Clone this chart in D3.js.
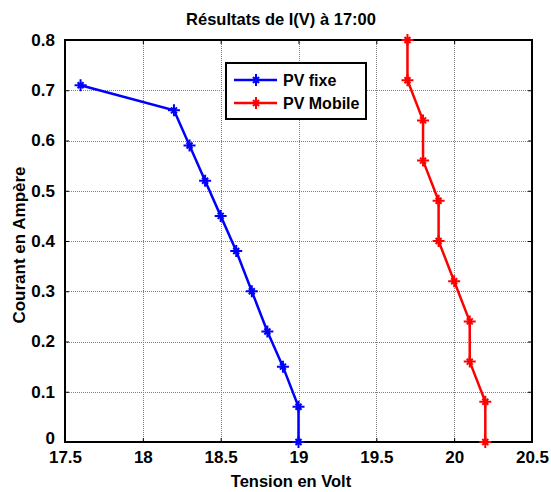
<!DOCTYPE html>
<html>
<head>
<meta charset="utf-8">
<script src="https://cdn.jsdelivr.net/npm/d3@7"></script>
<style>
  html, body { margin: 0; padding: 0; background: #fff; }
  svg { display: block; font-family: "Liberation Sans", Arial, sans-serif; }
</style>
</head>
<body>
<svg id="chart" width="551" height="492"></svg>
<script>
// I(V) measurements at 17:00 for the fixed and the tracking PV panel
const seriesNames = ["PV fixe", "PV Mobile"];
const seriesColors = ["#0000ff", "#ff0000"];
const fixeVolt = [17.6, 18.2, 18.3, 18.4, 18.5, 18.6, 18.7, 18.8, 18.9, 19.0, 19.0];
const fixeAmp  = [0.71, 0.66, 0.59, 0.52, 0.45, 0.38, 0.30, 0.22, 0.15, 0.07, 0.0];
const mobileVolt = [19.7, 19.7, 19.8, 19.8, 19.9, 19.9, 20.0, 20.1, 20.1, 20.2, 20.2];
const mobileAmp  = [0.80, 0.72, 0.64, 0.56, 0.48, 0.40, 0.32, 0.24, 0.16, 0.08, 0.0];
const xTicks = [17.5, 18, 18.5, 19, 19.5, 20, 20.5];
const yTicks = [0, 0.1, 0.2, 0.3, 0.4, 0.5, 0.6, 0.7, 0.8];
const titleText = "Résultats de I(V) à 17:00";
const xLabel = "Tension en Volt";
const yLabel = "Courant en Ampère";

const svg = d3.select("#chart");
const plotL = 65, plotR = 532, plotT = 40, plotB = 442;

const x = d3.scaleLinear().domain([17.5, 20.5]).range([plotL, plotR]);
const y = d3.scaleLinear().domain([0, 0.8]).range([plotB, plotT]);

// grid
const grid = svg.append("g").attr("stroke", "#808080").attr("stroke-width", 1)
  .attr("stroke-dasharray", "1,1");
grid.selectAll("line.v").data(xTicks.slice(1, -1)).join("line")
  .attr("x1", d => Math.round(x(d)) + 0.5).attr("x2", d => Math.round(x(d)) + 0.5)
  .attr("y1", plotT).attr("y2", plotB);
grid.selectAll("line.h").data(yTicks.slice(1, -1)).join("line")
  .attr("y1", d => Math.round(y(d)) + 0.5).attr("y2", d => Math.round(y(d)) + 0.5)
  .attr("x1", plotL).attr("x2", plotR);

// axes with inward ticks
const tickFont = 17;
const xAxisB = svg.append("g").attr("transform", `translate(0,${plotB})`)
  .call(d3.axisBottom(x).tickValues(xTicks).tickSize(-4).tickPadding(9).tickFormat(d3.format("")));
const xAxisT = svg.append("g").attr("transform", `translate(0,${plotT})`)
  .call(d3.axisTop(x).tickValues(xTicks).tickSize(-4).tickFormat(""));
const yAxisL = svg.append("g").attr("transform", `translate(${plotL},0)`)
  .call(d3.axisLeft(y).tickValues(yTicks).tickSize(-4).tickPadding(10).tickFormat(d3.format("")));
const yAxisR = svg.append("g").attr("transform", `translate(${plotR},0)`)
  .call(d3.axisRight(y).tickValues(yTicks).tickSize(-4).tickFormat(""));
[xAxisB, xAxisT, yAxisL, yAxisR].forEach(a => {
  a.select(".domain").remove();
  a.selectAll(".tick line").attr("stroke", "#000").attr("stroke-width", 1);
  a.selectAll("text").attr("font-size", tickFont).attr("font-weight", "bold")
    .attr("font-family", "Liberation Sans, Arial, sans-serif").attr("fill", "#000");
});
// the zero label sits a little higher so it clears the first x label
yAxisL.selectAll(".tick text").filter(d => d === 0).attr("dy", "0.1em");

// frame
svg.append("rect").attr("x", plotL).attr("y", plotT)
  .attr("width", plotR - plotL).attr("height", plotB - plotT)
  .attr("fill", "none").attr("stroke", "#000").attr("stroke-width", 2);

// asterisk-like marker: a bold plus with a short diagonal cross
function star(g, cx, cy, color) {
  const r = 6, d = 3;
  g.append("path")
    .attr("d", `M${cx - r},${cy}H${cx + r}M${cx},${cy - r}V${cy + r}` +
      `M${cx - d},${cy - d}L${cx + d},${cy + d}M${cx - d},${cy + d}L${cx + d},${cy - d}`)
    .attr("stroke", color).attr("stroke-width", 2).attr("fill", "none");
}

const series = [
  { v: fixeVolt, a: fixeAmp },
  { v: mobileVolt, a: mobileAmp }
];
const line = d3.line().x(d => x(d[0])).y(d => y(d[1]));
series.forEach((s, i) => {
  const pts = s.v.map((v, k) => [v, s.a[k]]);
  const g = svg.append("g");
  g.append("path").attr("d", line(pts)).attr("fill", "none")
    .attr("stroke", seriesColors[i]).attr("stroke-width", 2.5);
  pts.forEach(p => star(g, x(p[0]), y(p[1]), seriesColors[i]));
});

// legend
const leg = svg.append("g");
leg.append("rect").attr("x", 226).attr("y", 63).attr("width", 140).attr("height", 56)
  .attr("fill", "#fff").attr("stroke", "#000").attr("stroke-width", 2);
seriesNames.forEach((n, i) => {
  const ly = 80 + i * 23;
  leg.append("line").attr("x1", 234).attr("x2", 277).attr("y1", ly).attr("y2", ly)
    .attr("stroke", seriesColors[i]).attr("stroke-width", 2.5);
  star(leg, 256, ly, seriesColors[i]);
  leg.append("text").attr("x", 283).attr("y", ly + 6).text(n)
    .attr("font-size", 16).attr("font-weight", "bold");
});

// titles
svg.append("text").attr("x", 281).attr("y", 25).attr("text-anchor", "middle")
  .attr("font-size", 16.5).attr("font-weight", "bold").text(titleText);
svg.append("text").attr("x", 291).attr("y", 487).attr("text-anchor", "middle")
  .attr("font-size", 16.5).attr("font-weight", "bold").text(xLabel);
svg.append("text").attr("transform", `translate(25,245) rotate(-90)`)
  .attr("text-anchor", "middle")
  .attr("font-size", 17).attr("font-weight", "bold").text(yLabel);
</script>
</body>
</html>
